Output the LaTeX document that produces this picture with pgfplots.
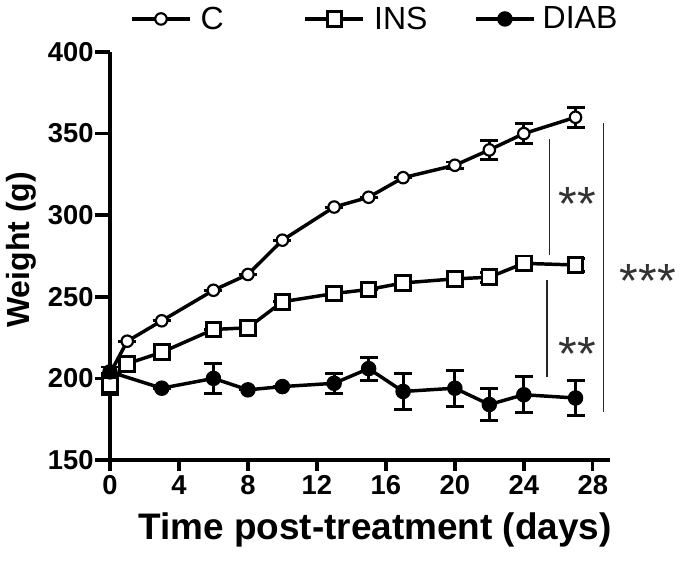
\documentclass[border=0pt]{standalone}
\usepackage{pgfplots}
\pgfplotsset{compat=1.18}
\usepackage{fontspec}
\setmainfont{Liberation Sans}
\pgfplotstableread{
x y e
0 203 0
1 222.8 0
3 235.3 0
6 254 0
8 263.7 0
10 284.7 0
13 305 0
15 311 0
17 323 0
20 330.6 2
22 340 6
24 350 6
27 360 6
}\tblC
\pgfplotstableread{
x y e
0 196 6
1 209 0
3 216 0
6 230 0
8 231 0
10 247 0
13 252 0
15 254.5 0
17 258.5 0
20 261 0
22 262 3
24 270.5 0
27 269.5 4
}\tblINS
\pgfplotstableread{
x y e
0 204 3
3 194 0
6 200 9
8 193 0
10 195 0
13 197 6
15 206 7
17 192 11
20 194 11
22 184 10
24 190 11
27 188 11
}\tblDIAB
\begin{document}
\begin{tikzpicture}
\path[use as bounding box] (-82.5pt,-76.5pt) rectangle (427.5pt,345pt);
\begin{axis}[
  at={(0pt,0pt)}, anchor=south west,
  scale only axis, width=375pt, height=306pt,
  xmin=0, xmax=29, ymin=150, ymax=400,
  clip=false,
  axis x line*=bottom, axis y line*=left,
  axis line style={line width=2.6pt, -},
  xtick={0,4,...,28}, ytick={150,200,...,400},
  tick align=outside,
  x tick style={line width=2.6pt, black, /pgfplots/major tick length=8pt},
  y tick style={line width=2.6pt, black, /pgfplots/major tick length=11pt},
  /pgf/number format/assume math mode=true,
  ticklabel style={font=\fontsize{20.5}{22}\selectfont\bfseries},
  xticklabel style={yshift=-4pt},
  yticklabel style={xshift=-4.5pt},
  xlabel={Time post-treatment (days)},
  ylabel={Weight (g)},
  xlabel style={font=\fontsize{27.7}{29}\selectfont\bfseries, at={(axis description cs:0.53,-0.172)}, anchor=center},
  ylabel style={font=\fontsize{24}{26}\selectfont\bfseries, at={(axis description cs:-0.178,0.515)}, anchor=center},
  legend columns=3,
  legend cell align=left,
  legend style={draw=none, fill=none, at={(axis description cs:0.04,1.081)}, anchor=west,
    font=\fontsize{24}{26}\selectfont, inner sep=0pt, nodes={inner sep=0pt}, column sep=0pt},
  legend image code/.code={\draw[mark repeat=2,mark phase=2,#1] plot coordinates {(0pt,0pt) (21.75pt,0pt) (43.5pt,0pt)};},
]
\addplot[black, line width=2.6pt, mark=*, mark size=4.3pt,
  mark options={line width=1.6pt, fill=white, draw=black, solid},
  error bars/.cd, y dir=both, y explicit,
  error mark options={rotate=90, black, mark size=6.75pt, line width=2.2pt},
  error bar style={line width=2.2pt, black}]
  table[x=x, y=y, y error=e]{\tblC};
\addlegendentry{\makebox[84pt][l]{\hspace{6.75pt}C}}
\addplot[black, line width=2.6pt, mark=square*, mark size=5.5pt,
  mark options={line width=2.2pt, fill=white, draw=black, solid},
  error bars/.cd, y dir=both, y explicit,
  error mark options={rotate=90, black, mark size=6.75pt, line width=2.2pt},
  error bar style={line width=2.2pt, black}]
  table[x=x, y=y, y error=e]{\tblINS};
\addlegendentry{\makebox[81.75pt][l]{\hspace{6.75pt}INS}}
\addplot[black, line width=2.6pt, mark=*, mark size=4.5pt,
  mark options={fill=black, draw=black, solid},
  error bars/.cd, y dir=both, y explicit,
  error mark options={rotate=90, black, mark size=6.75pt, line width=2.2pt},
  error bar style={line width=2.2pt, black}]
  table[x=x, y=y, y error=e]{\tblDIAB};
\addlegendentry{\hspace{5.25pt}DIAB}
\draw[line width=1.1pt, black!85] (axis cs:25.48,275.5) -- (axis cs:25.48,347);
\draw[line width=1.1pt, black!85] (axis cs:25.34,200.8) -- (axis cs:25.34,260.2);
\draw[line width=1.1pt, black!85] (axis cs:28.62,179.4) -- (axis cs:28.62,356.3);
\node[anchor=base, font=\fontsize{36}{36}\selectfont, text=black!80, yshift=-20.7pt, inner sep=0pt] at (axis cs:27.1,313.5) {**};
\node[anchor=base, font=\fontsize{36}{36}\selectfont, text=black!80, yshift=-20.7pt, inner sep=0pt] at (axis cs:27.1,221.6) {**};
\node[anchor=base, font=\fontsize{36}{36}\selectfont, text=black!80, yshift=-20.7pt, inner sep=0pt] at (axis cs:31.2,266.3) {***};
\end{axis}
\end{tikzpicture}
\end{document}
